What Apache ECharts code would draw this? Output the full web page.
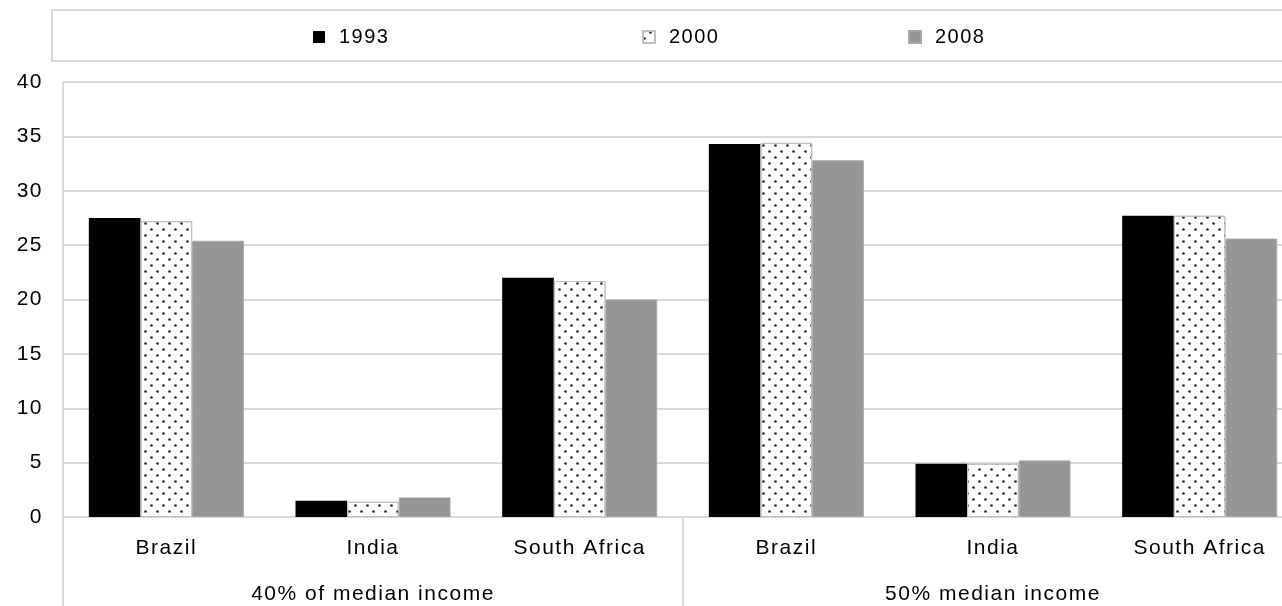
<!DOCTYPE html>
<html>
<head>
<meta charset="utf-8">
<script src="https://cdn.jsdelivr.net/npm/echarts@6/dist/echarts.min.js"></script>
<style>
html,body{margin:0;padding:0;background:#fff;overflow:hidden;}
#chart{width:1303px;height:606px;}
</style>
</head>
<body>
<div id="chart"></div>
<script>
const countries = ['Brazil', 'India', 'South Africa', 'Brazil', 'India', 'South Africa'];
const groups = ['40% of median income', '50% median income'];
const years = ['1993', '2000', '2008'];
const values1993 = [27.5, 1.5, 22.0, 34.3, 4.9, 27.7];
const values2000 = [27.2, 1.4, 21.7, 34.4, 4.9, 27.7];
const values2008 = [25.4, 1.8, 20.0, 32.8, 5.2, 25.6];
const yTicks = [0, 5, 10, 15, 20, 25, 30, 35, 40];

// wider glyph spacing like the reference rendering
const origFillText = CanvasRenderingContext2D.prototype.fillText;
CanvasRenderingContext2D.prototype.fillText = function (t, x, y, m) {
  try { this.letterSpacing = '1.5px'; } catch (e) {}
  return m === undefined ? origFillText.call(this, t, x, y) : origFillText.call(this, t, x, y, m);
};

const font = 'Liberation Sans, Arial, sans-serif';
const chart = echarts.init(document.getElementById('chart'));

const legendBase = {
  top: 22,
  itemWidth: 12,
  itemHeight: 12,
  icon: 'rect',
  textStyle: { fontFamily: font, fontSize: 20, color: '#000', padding: [0, 0, 0, 9] }
};

chart.setOption({
  animation: false,
  backgroundColor: '#fff',
  graphic: [{
    type: 'rect',
    shape: { x: 52, y: 10, width: 1280, height: 51 },
    style: { fill: 'none', stroke: '#d9d9d9', lineWidth: 2 },
    silent: true
  }],
  legend: [
    Object.assign({}, legendBase, { left: 308, data: [years[0]] }),
    Object.assign({}, legendBase, { left: 637, data: [years[1]] }),
    Object.assign({}, legendBase, { left: 903, data: [years[2]] })
  ],
  grid: { left: 63, top: 82, bottom: 89, right: 0, containLabel: false },
  xAxis: [{
    type: 'category',
    data: countries,
    position: 'bottom',
    axisLine: { show: true, lineStyle: { color: '#d9d9d9', width: 2 } },
    axisTick: { show: false },
    axisLabel: { fontFamily: font, fontSize: 21, color: '#000', margin: 21 }
  }, {
    type: 'category',
    data: groups,
    position: 'bottom',
    axisLine: { show: false },
    axisTick: { show: true, length: 89, interval: 0, lineStyle: { color: '#d9d9d9', width: 2 } },
    axisLabel: { fontFamily: font, fontSize: 21, color: '#000', margin: 67 }
  }],
  yAxis: {
    type: 'value',
    min: yTicks[0],
    max: yTicks[yTicks.length - 1],
    interval: 5,
    axisLine: { show: true, lineStyle: { color: '#d9d9d9', width: 2 } },
    axisTick: { show: false },
    splitLine: { show: true, lineStyle: { color: '#d9d9d9', width: 2 } },
    axisLabel: { fontFamily: font, fontSize: 21, color: '#000', margin: 20 }
  },
  series: [{
    name: years[0],
    type: 'bar',
    data: values1993,
    barGap: '0%',
    barCategoryGap: '25%',
    itemStyle: { color: '#000000' }
  }, {
    name: years[1],
    type: 'bar',
    data: values2000,
    barGap: '0%',
    barCategoryGap: '25%',
    itemStyle: {
      color: '#ffffff',
      borderColor: '#bfbfbf',
      borderWidth: 1,
      decal: {
        symbol: 'circle',
        symbolSize: 0.9,
        color: '#2a2a2a',
        backgroundColor: null,
        dashArrayX: [[3, 9], [0, 6, 3, 3]],
        dashArrayY: [3, 3],
        rotation: 0
      }
    }
  }, {
    name: years[2],
    type: 'bar',
    data: values2008,
    barGap: '0%',
    barCategoryGap: '25%',
    itemStyle: { color: '#969696', borderColor: '#a6a6a6', borderWidth: 1 }
  }]
});
</script>
</body>
</html>
